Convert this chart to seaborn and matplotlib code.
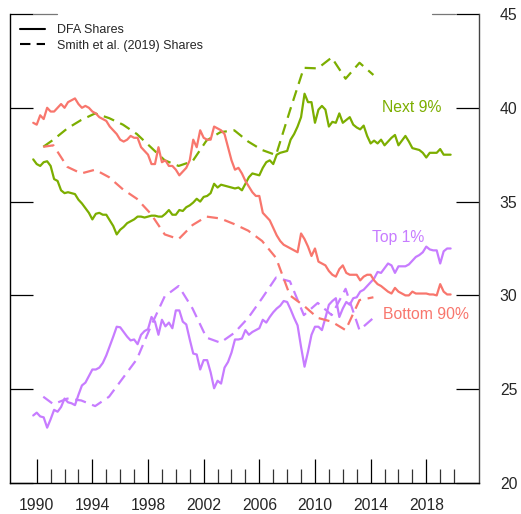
import numpy as np
import pandas as pd
import matplotlib
matplotlib.use("Agg")
import matplotlib.pyplot as plt
from matplotlib.lines import Line2D
from matplotlib.ticker import FixedLocator
import seaborn as sns

# ---------------- data ----------------
# DFA quarterly shares, 1989Q4 .. 2019Q4
dfa_first_year = 1989.75
bottom90_dfa = [
    39.2,
    39.1, 39.6, 39.4, 40.0,
    39.8, 39.8, 40.0, 40.2,
    40.0, 40.3, 40.4, 40.5,
    40.2, 40.0, 40.1, 40.0,
    39.8, 39.7, 39.5, 39.4,
    39.3, 39.0, 38.8, 38.6,
    38.3, 38.2, 38.3, 38.5,
    38.4, 38.4, 37.9, 37.7,
    37.5, 37.0, 37.0, 37.9,
    37.1, 37.2, 36.9, 36.9,
    36.7, 36.4, 36.6, 36.8,
    37.2, 38.3, 37.9, 38.8,
    38.4, 38.3, 38.3, 39.0,
    38.9, 38.8, 38.6, 37.9,
    37.2, 36.7, 36.8, 36.5,
    36.1, 35.8, 35.5, 35.3,
    35.3, 34.4, 34.2, 34.0,
    33.6, 33.2, 32.9, 32.7,
    32.6, 32.5, 32.4, 32.3,
    33.3, 33.0, 32.6, 32.1,
    32.5, 31.8, 31.7, 31.6,
    31.3, 31.1, 31.0, 31.4,
    31.6, 31.2, 31.1, 31.1,
    31.1, 30.8, 31.0, 31.1,
    31.1, 30.8, 30.6, 30.5,
    30.35, 30.2, 30.1, 30.4,
    30.2, 30.1, 30.0, 30.0,
    30.2, 30.1, 30.1, 30.1,
    30.1, 30.05, 30.05, 30.0,
    30.6, 30.2, 30.05, 30.05,
]
next9_dfa = [
    37.25,
    37.0, 36.9, 37.1, 37.15,
    36.9, 36.2, 36.1, 35.6,
    35.45, 35.5, 35.45, 35.4,
    35.1, 34.9, 34.65, 34.4,
    34.05, 34.35, 34.4, 34.3,
    34.3, 34.0, 33.7, 33.25,
    33.5, 33.65, 33.85, 33.95,
    34.05, 34.2, 34.2, 34.15,
    34.2, 34.25, 34.25, 34.2,
    34.2, 34.35, 34.55, 34.3,
    34.3, 34.55, 34.5, 34.7,
    34.8, 34.95, 35.15, 35.0,
    35.25, 35.3, 35.45, 35.95,
    35.75, 35.9, 35.85, 35.8,
    35.75, 35.7, 35.75, 35.6,
    35.95, 36.3, 36.5, 36.45,
    36.4, 36.8, 37.1, 37.2,
    37.0, 37.5, 37.6, 37.65,
    37.7, 38.3, 38.6, 39.0,
    39.5, 40.75, 40.3, 40.3,
    39.2, 39.9, 40.1, 39.9,
    39.0, 39.25, 39.2, 39.7,
    39.2, 39.35, 39.5, 39.1,
    38.95, 38.85, 39.05, 38.5,
    38.1, 38.25, 38.1, 38.3,
    38.0, 38.2, 38.4, 38.55,
    38.0, 38.25, 38.5, 38.2,
    37.85, 37.8, 37.75, 37.6,
    37.35, 37.6, 37.6, 37.6,
    37.8, 37.5, 37.5, 37.5,
]
top1_dfa = [
    23.6,
    23.75, 23.55, 23.5, 22.95,
    23.4, 23.9, 23.8, 24.05,
    24.5, 24.3, 24.25, 24.15,
    24.7, 25.2, 25.35, 25.7,
    26.05, 26.05, 26.15, 26.4,
    26.8, 27.3, 27.8, 28.33,
    28.3, 28.05, 27.8, 27.6,
    27.65, 27.4, 27.9, 28.1,
    28.2, 28.85, 28.6, 27.9,
    28.7, 28.35, 28.55, 28.25,
    29.2, 29.2, 28.6, 28.45,
    27.65, 26.9, 26.85, 26.05,
    26.55, 26.55, 25.9, 25.05,
    25.45, 25.3, 26.15, 26.45,
    26.95, 27.65, 27.65, 27.7,
    28.15, 27.9, 28.05, 28.15,
    28.25, 28.7, 28.55, 28.85,
    29.1, 29.3, 29.45, 29.7,
    29.65, 29.25, 28.8, 28.4,
    27.25, 26.2, 27.0, 27.9,
    28.33, 28.33, 28.15, 28.8,
    29.5, 29.7, 29.85, 28.85,
    29.3, 29.65, 29.5, 29.85,
    29.9, 30.2, 30.3, 30.5,
    30.7, 30.9, 31.25, 31.2,
    31.45, 31.7, 31.6, 31.2,
    31.55, 31.55, 31.55, 31.65,
    31.85, 32.05, 32.15, 32.3,
    32.6, 32.45, 32.4, 32.4,
    31.7, 32.35, 32.5, 32.5,
]

# Smith et al. (2019) annual shares
smith_dates = [1990.47] + [y + 0.2 for y in range(1991, 2015)]
next9_smith = [37.92, 38.3, 38.9, 39.35, 39.7, 39.45, 39.1, 38.6, 37.9, 37.2,
               36.9, 37.15, 38.25, 38.7, 38.8, 38.2, 37.75, 37.48, 39.85, 42.13,
               42.1, 42.68, 41.55, 42.4, 41.75]
bottom90_smith = [37.92, 38.0, 36.85, 36.5, 36.7, 36.3, 35.65, 35.15, 34.35, 33.25,
                  33.0, 33.75, 34.2, 34.1, 33.8, 33.45, 32.9, 32.0, 30.0, 29.45,
                  28.8, 28.6, 28.15, 29.75, 29.9]
top1_smith = [24.6, 24.2, 24.5, 24.4, 24.1, 24.6, 25.6, 26.6, 28.35, 29.95,
              30.5, 29.3, 27.75, 27.48, 28.0, 28.8, 29.85, 30.95, 30.75, 28.95,
              29.6, 28.95, 30.35, 28.15, 28.8]

groups = ["Top 1%", "Next 9%", "Bottom 90%"]
sources = ["DFA Shares", "Smith et al. (2019) Shares"]
colors = {"Top 1%": "#C77CFF", "Next 9%": "#7CAE00", "Bottom 90%": "#F8766D"}

x_major = list(range(1990, 2019, 4))
x_minor = list(range(1990, 2021))
y_ticks = [20, 25, 30, 35, 40, 45]

# ---------------- long table ----------------
dfa_dates = dfa_first_year + 0.25 * np.arange(len(top1_dfa))
frames = []
for g, vals in zip(groups, [top1_dfa, next9_dfa, bottom90_dfa]):
    frames.append(pd.DataFrame({"date": dfa_dates, "share": vals, "group": g, "source": sources[0]}))
for g, vals in zip(groups, [top1_smith, next9_smith, bottom90_smith]):
    frames.append(pd.DataFrame({"date": smith_dates, "share": vals, "group": g, "source": sources[1]}))
df = pd.concat(frames, ignore_index=True)

# ---------------- plot ----------------
sns.set_style("white")
plt.rcParams["font.family"] = ["Liberation Sans", "DejaVu Sans"]

fig = plt.figure(figsize=(5.21, 5.14), dpi=100)
ax = fig.add_axes([0.0192, 0.0603, 0.9002, 0.9125])

sns.lineplot(data=df, x="date", y="share", hue="group", style="source",
             palette=colors, dashes={sources[0]: "", sources[1]: (5, 3)},
             linewidth=1.6, estimator=None, sort=False, legend=False, ax=ax)

ax.set_xlim(1988.08, 2021.79)
ax.set_ylim(20, 45)
ax.set_xlabel("")
ax.set_ylabel("")

ax.xaxis.set_major_locator(FixedLocator(x_major))
ax.xaxis.set_minor_locator(FixedLocator(x_minor))
ax.set_yticks(y_ticks)
ax.tick_params(axis="x", which="both", bottom=True, top=False)
ax.tick_params(axis="x", which="major", direction="in", length=17, width=0.9,
               color="black", pad=11, labelsize=11.3)
ax.tick_params(axis="x", which="minor", direction="in", length=10, width=0.9,
               color="#333333")
ax.tick_params(axis="y", direction="in", length=16.5, width=0.9, color="black",
               left=True, right=True, labelleft=False, labelright=True,
               pad=15, labelsize=11.3)

for side in ["left", "bottom"]:
    ax.spines[side].set_color("black")
    ax.spines[side].set_linewidth(1.0)
ax.spines["right"].set_color("#444444")
ax.spines["right"].set_linewidth(1.0)
ax.spines["top"].set_visible(False)

# small grey continuation of the top ticks
ax.plot([0.049, 0.1], [1, 1], transform=ax.transAxes, color="#777777",
        lw=0.9, clip_on=False)
ax.plot([0.9, 0.949], [1, 1], transform=ax.transAxes, color="#777777",
        lw=0.9, clip_on=False)

# direct labels
ax.text(2016.96, 40.0, "Next 9%", color=colors["Next 9%"], ha="center", va="center", fontsize=11.3)
ax.text(2016.0, 33.1, "Top 1%", color=colors["Top 1%"], ha="center", va="center", fontsize=11.3)
ax.text(2017.97, 28.96, "Bottom 90%", color=colors["Bottom 90%"], ha="center", va="center", fontsize=11.3)

handles = [Line2D([], [], color="black", lw=1.5, linestyle="-"),
           Line2D([], [], color="black", lw=1.5, dashes=(5, 3))]
ax.legend(handles, sources, loc="upper left", bbox_to_anchor=(0, 1),
          borderaxespad=0, borderpad=0.8, frameon=False, fontsize=9,
          handlelength=2.0, handletextpad=0.95, labelspacing=0.3)

fig.savefig("out.png", dpi=100)
